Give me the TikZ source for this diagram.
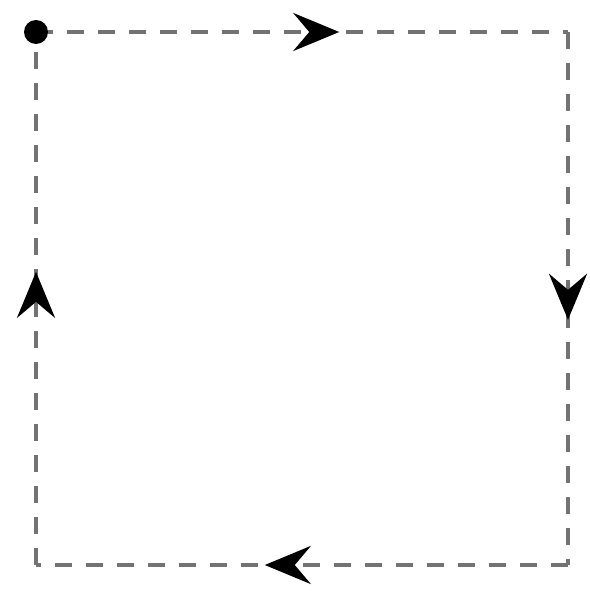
\documentclass[tikz,border=0pt]{standalone}
\usetikzlibrary{arrows.meta,decorations.markings}
\begin{document}
\begin{tikzpicture}[x=1pt,y=-1pt,
  side/.style={draw=black!55, line width=4pt, dash pattern=on 17pt off 14pt,
    postaction={decorate},
    decoration={markings, mark=at position #1 with {\arrow[black]{Stealth[length=46pt,width=38pt,inset=16pt]}}}},
  dotnode/.style={circle, fill=black, minimum size=24pt, inner sep=0pt}]
\useasboundingbox (0,0) rectangle (589,596);
\coordinate (tl) at (36,32);
\coordinate (tr) at (568,32);
\coordinate (br) at (568,565);
\coordinate (bl) at (36,565);
\path[side=0.57] (tl) -- (tr);
\path[side=0.54] (tr) -- (br);
\path[side=0.57] (br) -- (bl);
\path[side=0.55] (bl) -- (tl);
\node[dotnode] (dot) at (tl) {};
\end{tikzpicture}
\end{document}
